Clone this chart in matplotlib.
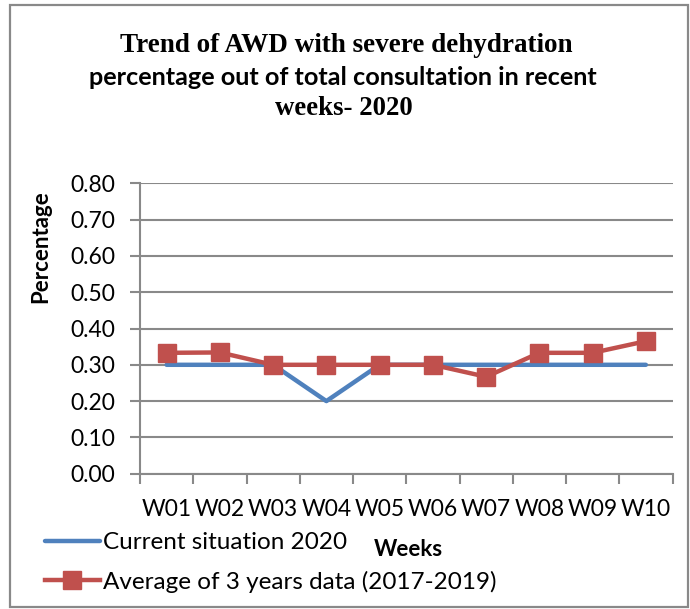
import matplotlib
matplotlib.use("Agg")
import matplotlib.pyplot as plt
from matplotlib.ticker import FixedLocator, FormatStrFormatter
import numpy as np

weeks = ["W01", "W02", "W03", "W04", "W05", "W06", "W07", "W08", "W09", "W10"]
current_2020 = [0.30, 0.30, 0.30, 0.20, 0.30, 0.30, 0.30, 0.30, 0.30, 0.30]
avg_3yrs = [0.333, 0.334, 0.30, 0.30, 0.30, 0.30, 0.267, 0.333, 0.333, 0.365]
yticks = [0.0, 0.1, 0.2, 0.3, 0.4, 0.5, 0.6, 0.7, 0.8]

W, H = 690, 609
fig = plt.figure(figsize=(W / 100, H / 100), dpi=100)
sans = ["Lato", "DejaVu Sans"]
serif = ["Liberation Serif", "DejaVu Serif"]
grey = "#898989"

# outer border
fig.patches.append(plt.Rectangle((10 / W, 1 - 606.5 / H), 677.5 / W, 601.5 / H,
                                 transform=fig.transFigure, fill=False,
                                 edgecolor=grey, linewidth=1.6))

ax = fig.add_axes([140 / W, 1 - 473.7 / H, 532.5 / W, 290.4 / H])
x = np.arange(len(weeks))
l1, = ax.plot(x, current_2020, color="#4F81BD", linewidth=3.2,
              solid_capstyle="round", label="Current situation 2020", zorder=3)
l2, = ax.plot(x, avg_3yrs, color="#C0504D", linewidth=3.2, marker="s",
              markersize=12.5, label="Average of 3 years data (2017-2019)", zorder=4)

ax.set_xlim(-0.5, len(weeks) - 0.5)
ax.set_ylim(0, 0.8)
ax.set_yticks(yticks)
ax.yaxis.set_major_formatter(FormatStrFormatter("%.2f"))
ax.set_xticks(x)
ax.set_xticklabels(weeks)
ax.xaxis.set_minor_locator(FixedLocator(np.arange(-0.5, len(weeks), 1.0)))
ax.tick_params(axis="x", which="major", length=0, pad=18)
ax.tick_params(axis="x", which="minor", length=7, width=1.5, color=grey, direction="out")
ax.tick_params(axis="y", length=7, width=1.5, color=grey, pad=11)
for lab in ax.get_xticklabels() + ax.get_yticklabels():
    lab.set_fontfamily(sans)
    lab.set_fontsize(16.5)
ax.yaxis.grid(True, color=grey, linewidth=1.5)
ax.set_axisbelow(True)
for s in ["top", "right"]:
    ax.spines[s].set_visible(False)
for s in ["left", "bottom"]:
    ax.spines[s].set_color(grey)
    ax.spines[s].set_linewidth(1.5)

# axis titles
fig.text(41 / W, 1 - 247 / H, "Percentage", rotation=90, ha="center", va="center",
         fontsize=16, fontweight="bold", family=sans)
fig.text(408 / W, 1 - 549 / H, "Weeks", ha="center", va="center",
         fontsize=16, fontweight="bold", family=sans)

# title
fig.text(346 / W, 1 - 51.7 / H, "Trend of AWD with severe dehydration", ha="center",
         va="baseline", fontsize=19.5, fontweight="bold", family=serif)
fig.text(343 / W, 1 - 85 / H, "percentage out of total consultation in recent", ha="center",
         va="baseline", fontsize=18.2, fontweight="bold", family=sans)
fig.text(344 / W, 1 - 115 / H, "weeks- 2020", ha="center",
         va="baseline", fontsize=19.3, fontweight="bold", family=serif)

leg = fig.legend(handles=[l1, l2], loc="upper left",
                 bbox_to_anchor=(45 / W, 1 - 532 / H), frameon=False,
                 prop={"family": sans, "size": 17.5}, handlelength=2.25,
                 handletextpad=0.15, labelspacing=0.72, numpoints=1,
                 borderpad=0, borderaxespad=0)

fig.savefig("out.png", dpi=100)
